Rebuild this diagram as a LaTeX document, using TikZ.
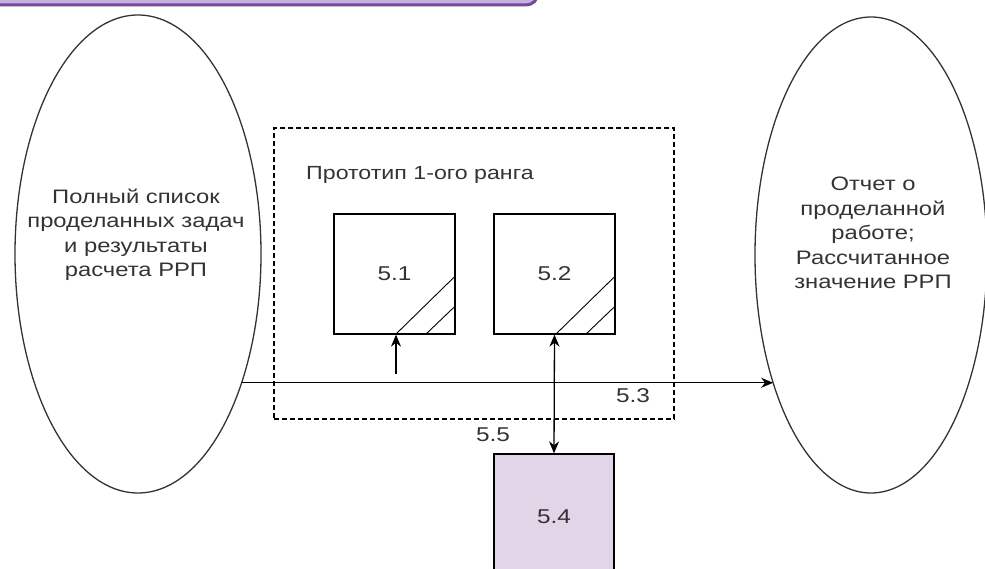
\documentclass[tikz,border=0pt]{standalone}
\usepackage{fontspec}
\setmainfont{Liberation Sans}[FakeStretch=1.22]
\usetikzlibrary{shapes.geometric,arrows.meta,calc}
\definecolor{lav}{HTML}{E1D5E7}
\definecolor{purp}{HTML}{76479F}
\definecolor{purplight}{HTML}{C7B2DD}
\definecolor{txt}{HTML}{333333}
\tikzset{
  ell/.style={draw=black!80, line width=1.3pt, ellipse, inner sep=0pt},
  txtnode/.style={text=txt, align=center, inner sep=0pt, font=\fontsize{19.5}{24.5}\selectfont},
  numnode/.style={text=txt, inner sep=0pt, font=\fontsize{20}{24}\selectfont},
  boxnode/.style={draw=black, line width=1.3pt, minimum width=121pt, minimum height=120pt, inner sep=0pt, text=txt, font=\fontsize{20}{24}\selectfont},
  conn/.style={line width=1.3pt, -{Stealth[length=12pt,width=10pt]}},
  biconn/.style={line width=1.3pt, {Stealth[length=12pt,width=10pt]}-{Stealth[length=12pt,width=10pt]}},
  hatch/.style={line width=0.9pt},
  group/.style={draw=black, line width=1.2pt, dash pattern=on 5pt off 3pt}
}
\begin{document}
\begin{tikzpicture}[x=1pt,y=-1pt]
\useasboundingbox (0,0) rectangle (985,569);
\clip (0,0) rectangle (985,569);
\fill[white] (0,0) rectangle (985,569);
% top purple frame (cut off)
\draw[draw=purp, fill=purplight, line width=3pt, rounded corners=12pt] (-20,-40) rectangle (538,5);
% ellipses
\node[ell, minimum width=246pt, minimum height=478pt] (L) at (138,254) {};
\node[txtnode] (Ltext) at (136,235) {Полный список\\проделанных задач\\и результаты\\расчета РРП};
\node[ell, minimum width=232pt, minimum height=476pt] (R) at (871,255) {};
\node[txtnode] (Rtext) at (873,233) {Отчет о\\проделанной\\работе;\\Рассчитанное\\значение РРП};
% group
\node[group, minimum width=400pt, minimum height=291pt, inner sep=0pt] (G) at (474,273.5) {};
\node[txtnode, anchor=west, font=\fontsize{19}{23}\selectfont] (Gtitle) at (306,175) {Прототип 1-ого ранга};
% boxes
\node[boxnode] (B1) at (394.5,274) {5.1};
\node[boxnode] (B2) at (554.5,274) {5.2};
\node[boxnode, fill=lav, minimum width=120pt, minimum height=126pt] (B4) at (554,517) {5.4};
% hatching
\foreach \b in {B1,B2}{
  \draw[hatch] ($(\b.south west)+(62,0)$) -- ($(\b.south east)+(0,-59)$);
  \draw[hatch] ($(\b.south west)+(92,0)$) -- ($(\b.south east)+(0,-29)$);
}
% connectors
\draw[conn] (L.-51.1) -- (L.-51.1 -| R.-127.2);
\coordinate (a1) at (396,374);
\draw[conn] (a1) -- (a1 |- B1.south);
\draw[biconn] (B2.south) -- (B4.north);
% labels
\node[numnode] (l53) at (633,396) {5.3};
\node[numnode] (l55) at (493,435) {5.5};
\end{tikzpicture}
\end{document}
